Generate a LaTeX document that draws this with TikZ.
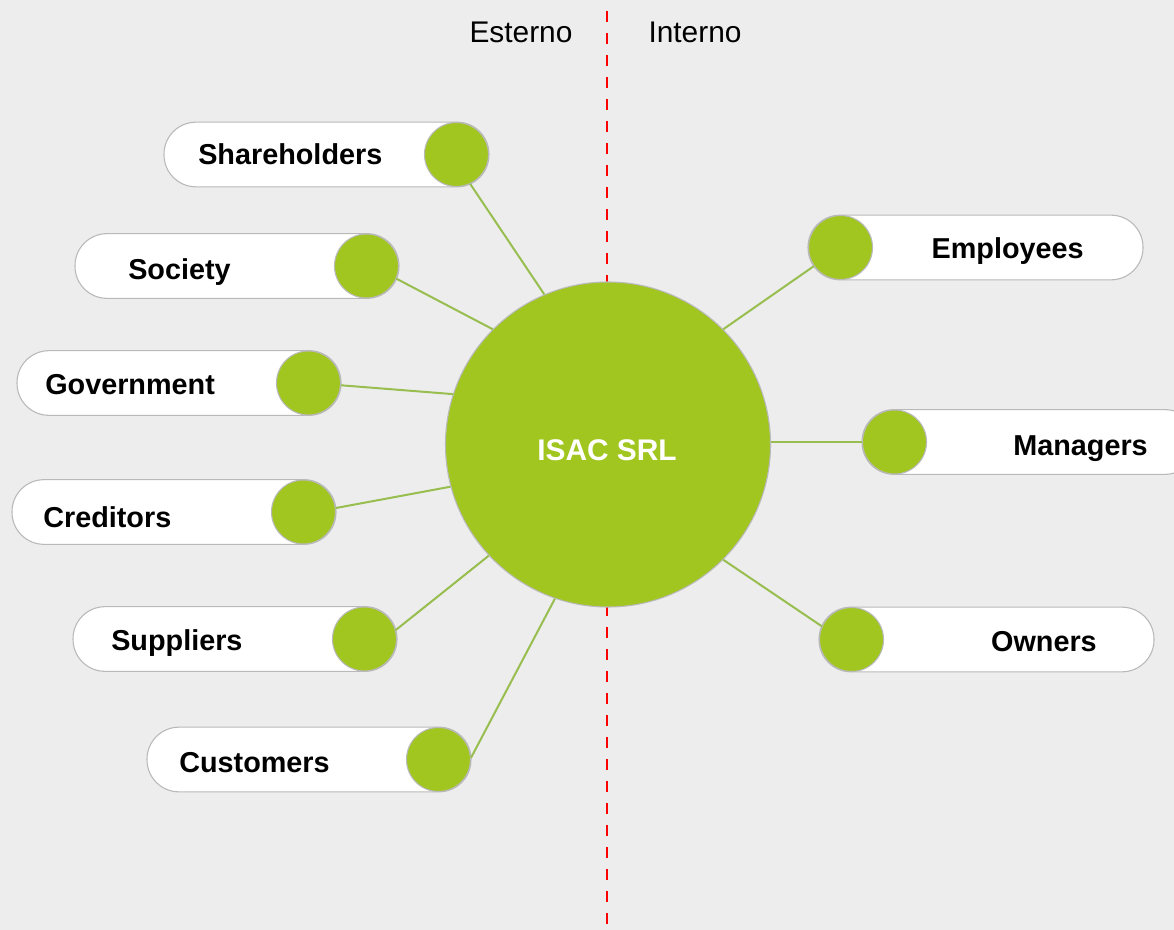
\documentclass[tikz,border=0pt]{standalone}
\usepackage{fontspec}
\setmainfont{Liberation Sans}
\definecolor{bg}{RGB}{237,237,237}
\definecolor{isacgreen}{RGB}{161,198,31}
\definecolor{linkgreen}{RGB}{152,190,80}
\definecolor{rim}{RGB}{185,185,185}
\tikzset{
    pill/.style={draw=rim, fill=white, line width=0.8pt, rounded corners=24pt, minimum height=48.5pt, inner sep=0pt},
    dot/.style={circle, draw=rim, fill=isacgreen, line width=0.8pt, minimum size=48pt, inner sep=0pt},
    lab/.style={font=\fontsize{21.6}{26}\selectfont\bfseries, inner sep=0pt},
    side/.style={font=\fontsize{22.4}{27}\selectfont, inner sep=0pt},
    link/.style={draw=linkgreen, line width=1.5pt}
}
\begin{document}
\begin{tikzpicture}[x=0.75pt,y=-0.75pt]
        \useasboundingbox (0,0) rectangle (1174,930);
        \fill[bg] (0,0) rectangle (1174,930);
        \clip (0,0) rectangle (1174,930);
        \coordinate (top) at (607,11);
        \coordinate (bot) at (607,930);
        \draw[red, line width=2.2pt, dash pattern=on 8.25pt off 8.25pt] (top) -- (bot);
        \node[side, anchor=base] (est) at (521,42.5) {Esterno};
        \node[side, anchor=base] (int) at (695,42.5) {Interno};
        \node[circle, draw=rim, fill=isacgreen, line width=0.8pt, minimum size=243.75pt, inner sep=0pt] (isac) at (608,444.5) {};
        \node[lab, font=\fontsize{22.4}{27}\selectfont\bfseries, text=white, anchor=base] (isacT) at (607,460) {ISAC SRL};

        \node[pill, minimum width=243.75pt] (shP) at (326.5,154.5) {};
        \node[pill, minimum width=243pt] (soP) at (237,266) {};
        \node[pill, minimum width=243pt] (goP) at (179,383) {};
        \node[pill, minimum width=243pt] (crP) at (174,512) {};
        \node[pill, minimum width=243pt] (suP) at (235,639) {};
        \node[pill, minimum width=243pt] (cuP) at (309,759.5) {};
        \node[pill, minimum width=251.25pt] (emP) at (975.5,247.5) {};
        \node[pill, minimum width=251.25pt] (maP) at (1029.5,442) {};
        \node[pill, minimum width=251.25pt] (owP) at (986.5,639.5) {};

        \node[dot] (sh) at (456.5,154.5) {};
        \node[dot] (so) at (366.5,266) {};
        \node[dot] (go) at (308.5,383) {};
        \node[dot] (cr) at (303.5,512) {};
        \node[dot] (su) at (364.5,639) {};
        \node[dot] (cu) at (438.5,759.5) {};
        \node[dot] (em) at (840.5,247.5) {};
        \node[dot] (ma) at (894.5,442) {};
        \node[dot] (ow) at (851.5,639.5) {};

        \node[lab, anchor=base west] (shT) at (198,164.5) {Shareholders};
        \node[lab, anchor=base west] (soT) at (128,280) {Society};
        \node[lab, anchor=base west] (goT) at (45,394) {Government};
        \node[lab, anchor=base west] (crT) at (43,527) {Creditors};
        \node[lab, anchor=base west] (suT) at (111,650) {Suppliers};
        \node[lab, anchor=base west] (cuT) at (179,772) {Customers};
        \node[lab, anchor=base east] (emT) at (1084,259) {Employees};
        \node[lab, anchor=base east] (maT) at (1148,455) {Managers};
        \node[lab, anchor=base east] (owT) at (1097,651) {Owners};

        \draw[link] (sh.-65) -- (isac.113.5);
        \draw[link] (so.-23) -- (isac.135.7);
        \draw[link] (go.-4) -- (isac.162.9);
        \draw[link] (cr.7) -- (isac.195.5);
        \draw[link] (su.16) -- (isac.223.3);
        \draw[link] (cu.3) -- (isac.251);
        \draw[link] (em.215) -- (isac.45.7);
        \draw[link] (ma.west) -- (ma.west -| isac.east);
        \draw[link] (ow.156) -- (isac.315);
    \end{tikzpicture}
\end{document}
